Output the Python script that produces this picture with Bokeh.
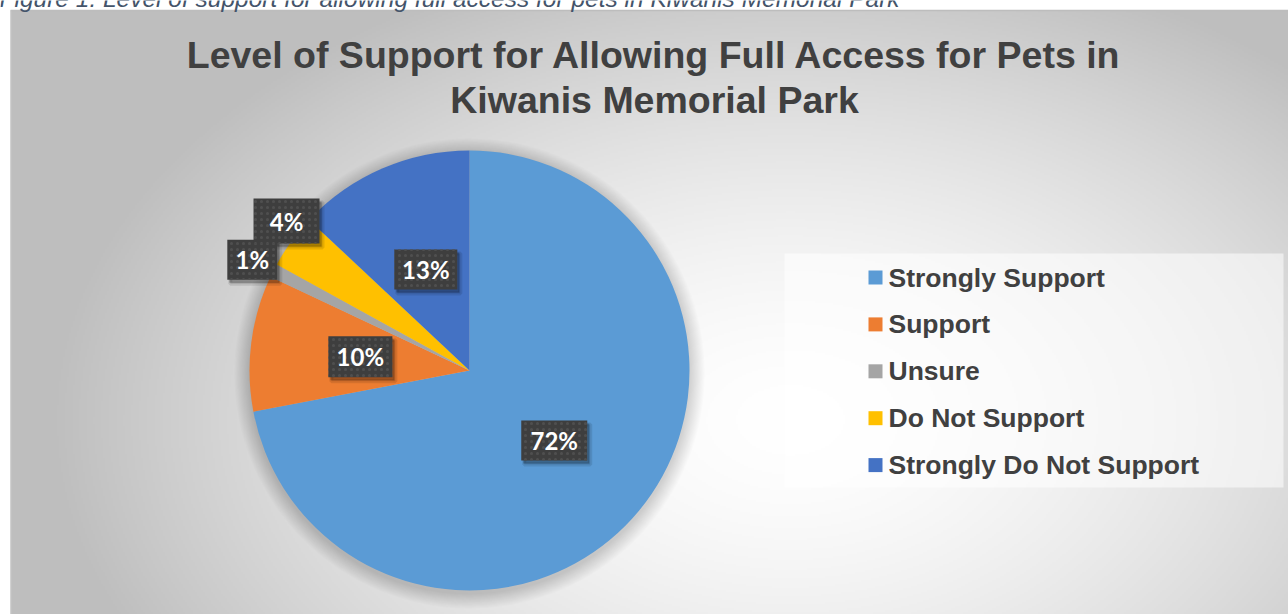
import numpy as np
from bokeh.plotting import figure
from bokeh.models import Range1d, ColumnDataSource
from bokeh.core.properties import value
from bokeh.embed import file_html
from bokeh.resources import INLINE

# ---------------- data ----------------
categories = ["Strongly Support", "Support", "Unsure", "Do Not Support", "Strongly Do Not Support"]
percent = [72, 10, 1, 4, 13]
colors = ["#5B9BD5", "#ED7D31", "#A5A5A5", "#FFC000", "#4472C4"]
title_lines = ["Level of Support for Allowing Full Access for Pets in", "Kiwanis Memorial Park"]
caption = "Figure 1: Level of support for allowing full access for pets in Kiwanis Memorial Park"

# ---------------- layout constants (page pixels) ----------------
W, H = 1288, 614


def Y(py):
    return H - np.asarray(py, dtype=float)


CX, CY, R = 469, 370, 220
label_radius = [0.5, 0.5, 1.108, 1.074, 0.5]
label_turn_deg = [0, 0, 0, -3.25, 0]
box_w = [66, 64, 50, 66, 63]
box_h = [40, 41, 40, 45, 40]
TEXT = "#404040"

p = figure(width=W, height=H, x_range=Range1d(0, W), y_range=Range1d(0, H),
           x_axis_type=None, y_axis_type=None, output_backend="svg",
           toolbar_location=None, min_border=0)
p.grid.visible = False
p.outline_line_color = None
p.background_fill_color = "white"
p.border_fill_color = "white"

# ---------------- background gradient (chart area) ----------------
nx, ny = 640, 302
gx = np.linspace(10, 1288, nx)
gy = np.linspace(614, 10, ny)
GX, GY = np.meshgrid(gx, gy)
t = np.sqrt(((GX - 790) / 720.0) ** 2 + ((GY - 420) / 470.0) ** 2)
g = 255 - 62 * np.clip(t, 0, 1.15) ** 1.6
g = np.clip(g, 190, 255).astype(np.uint8)
img = np.zeros((ny, nx), dtype=np.uint32)
view = img.view(dtype=np.uint8).reshape((ny, nx, 4))
view[:, :, 0] = g
view[:, :, 1] = g
view[:, :, 2] = g
view[:, :, 3] = 255
p.image_rgba(image=[img], x=10, y=0, dw=1278, dh=float(Y(10)))
p.segment(x0=10, y0=float(Y(10)), x1=1288, y1=float(Y(10)), line_color="#bdbdbd", line_width=1.5)
p.segment(x0=10.5, y0=0, x1=10.5, y1=float(Y(10)), line_color="#c6c6c6", line_width=1)

# ---------------- caption (cut at the top of the page, as in the source) ----------------
p.text(x=-1, y=float(Y(-1.6)), text=[caption], text_align="left", text_baseline="middle",
       text_font=value("Liberation Sans"), text_font_style="italic", text_font_size="24.5px",
       text_color="#44546A")

# ---------------- title ----------------
p.text(x=[654, 654], y=Y([54.5, 99.5]), text=title_lines, text_align="center",
       text_baseline="middle", text_font=value("Liberation Sans"), text_font_style="bold",
       text_font_size="37.5px", text_color=TEXT)

# ---------------- pie shadow ----------------
for k in range(14):
    p.circle(x=CX, y=float(Y(CY + 3)), radius=R + 1 + k * 1.1, fill_color="black",
             fill_alpha=0.012, line_color=None)

# ---------------- pie ----------------
frac = np.array(percent, dtype=float) / sum(percent)
cum = np.cumsum(frac)
start = np.pi / 2 - 2 * np.pi * (cum - frac)
end = np.pi / 2 - 2 * np.pi * cum
src = ColumnDataSource(dict(cat=categories, pct=percent, color=colors, start=start, end=end))
p.wedge(x=CX, y=float(Y(CY)), radius=R, start_angle="start", end_angle="end", direction="clock",
        fill_color="color", line_color=None, source=src)

# ---------------- data labels ----------------
mid = np.pi / 2 - 2 * np.pi * (cum - frac / 2) + np.radians(label_turn_deg)
lx = CX + np.array(label_radius) * R * np.cos(mid)
ly = Y(CY) + np.array(label_radius) * R * np.sin(mid)
labels = [f"{v}%" for v in percent]
lsrc = ColumnDataSource(dict(x=lx, y=ly, w=box_w, h=box_h, text=labels,
                             sx=lx + 3, sy=ly - 4, sx2=lx + 2, sy2=ly - 3))
p.rect(x="sx", y="sy", width="w", height="h", fill_color="black", fill_alpha=0.12,
       line_color="black", line_alpha=0.10, line_width=4, source=lsrc)
p.rect(x="sx2", y="sy2", width="w", height="h", fill_color="black", fill_alpha=0.25,
       line_color=None, source=lsrc)
p.rect(x="x", y="y", width="w", height="h", fill_color="#3e3e3e", line_color=None,
       hatch_pattern="dot", hatch_color="#4f4f4f", hatch_scale=6, hatch_weight=1,
       source=lsrc)
p.text(x="x", y="y", text="text", text_align="center", text_baseline="middle",
       text_font=value("Lato"), text_font_style="bold", text_font_size="24px",
       text_color="white", source=lsrc)

# ---------------- legend ----------------
p.quad(left=784, right=1283, top=float(Y(253)), bottom=float(Y(487)), fill_color="white",
       fill_alpha=0.55, line_color=None)
rows = np.arange(len(categories))
leg = ColumnDataSource(dict(cat=categories, color=colors,
                            sy=Y(277 + rows * 46.9), ty=Y(277 + rows * 46.9)))
p.rect(x=875, y="sy", width=14, height=14, fill_color="color", line_color=None, source=leg)
p.text(x=888, y="ty", text="cat", text_align="left", text_baseline="middle",
       text_font=value("Liberation Sans"), text_font_style="bold", text_font_size="26.5px",
       text_color=TEXT, source=leg)

open("out.html", "w").write(file_html(p, INLINE))
